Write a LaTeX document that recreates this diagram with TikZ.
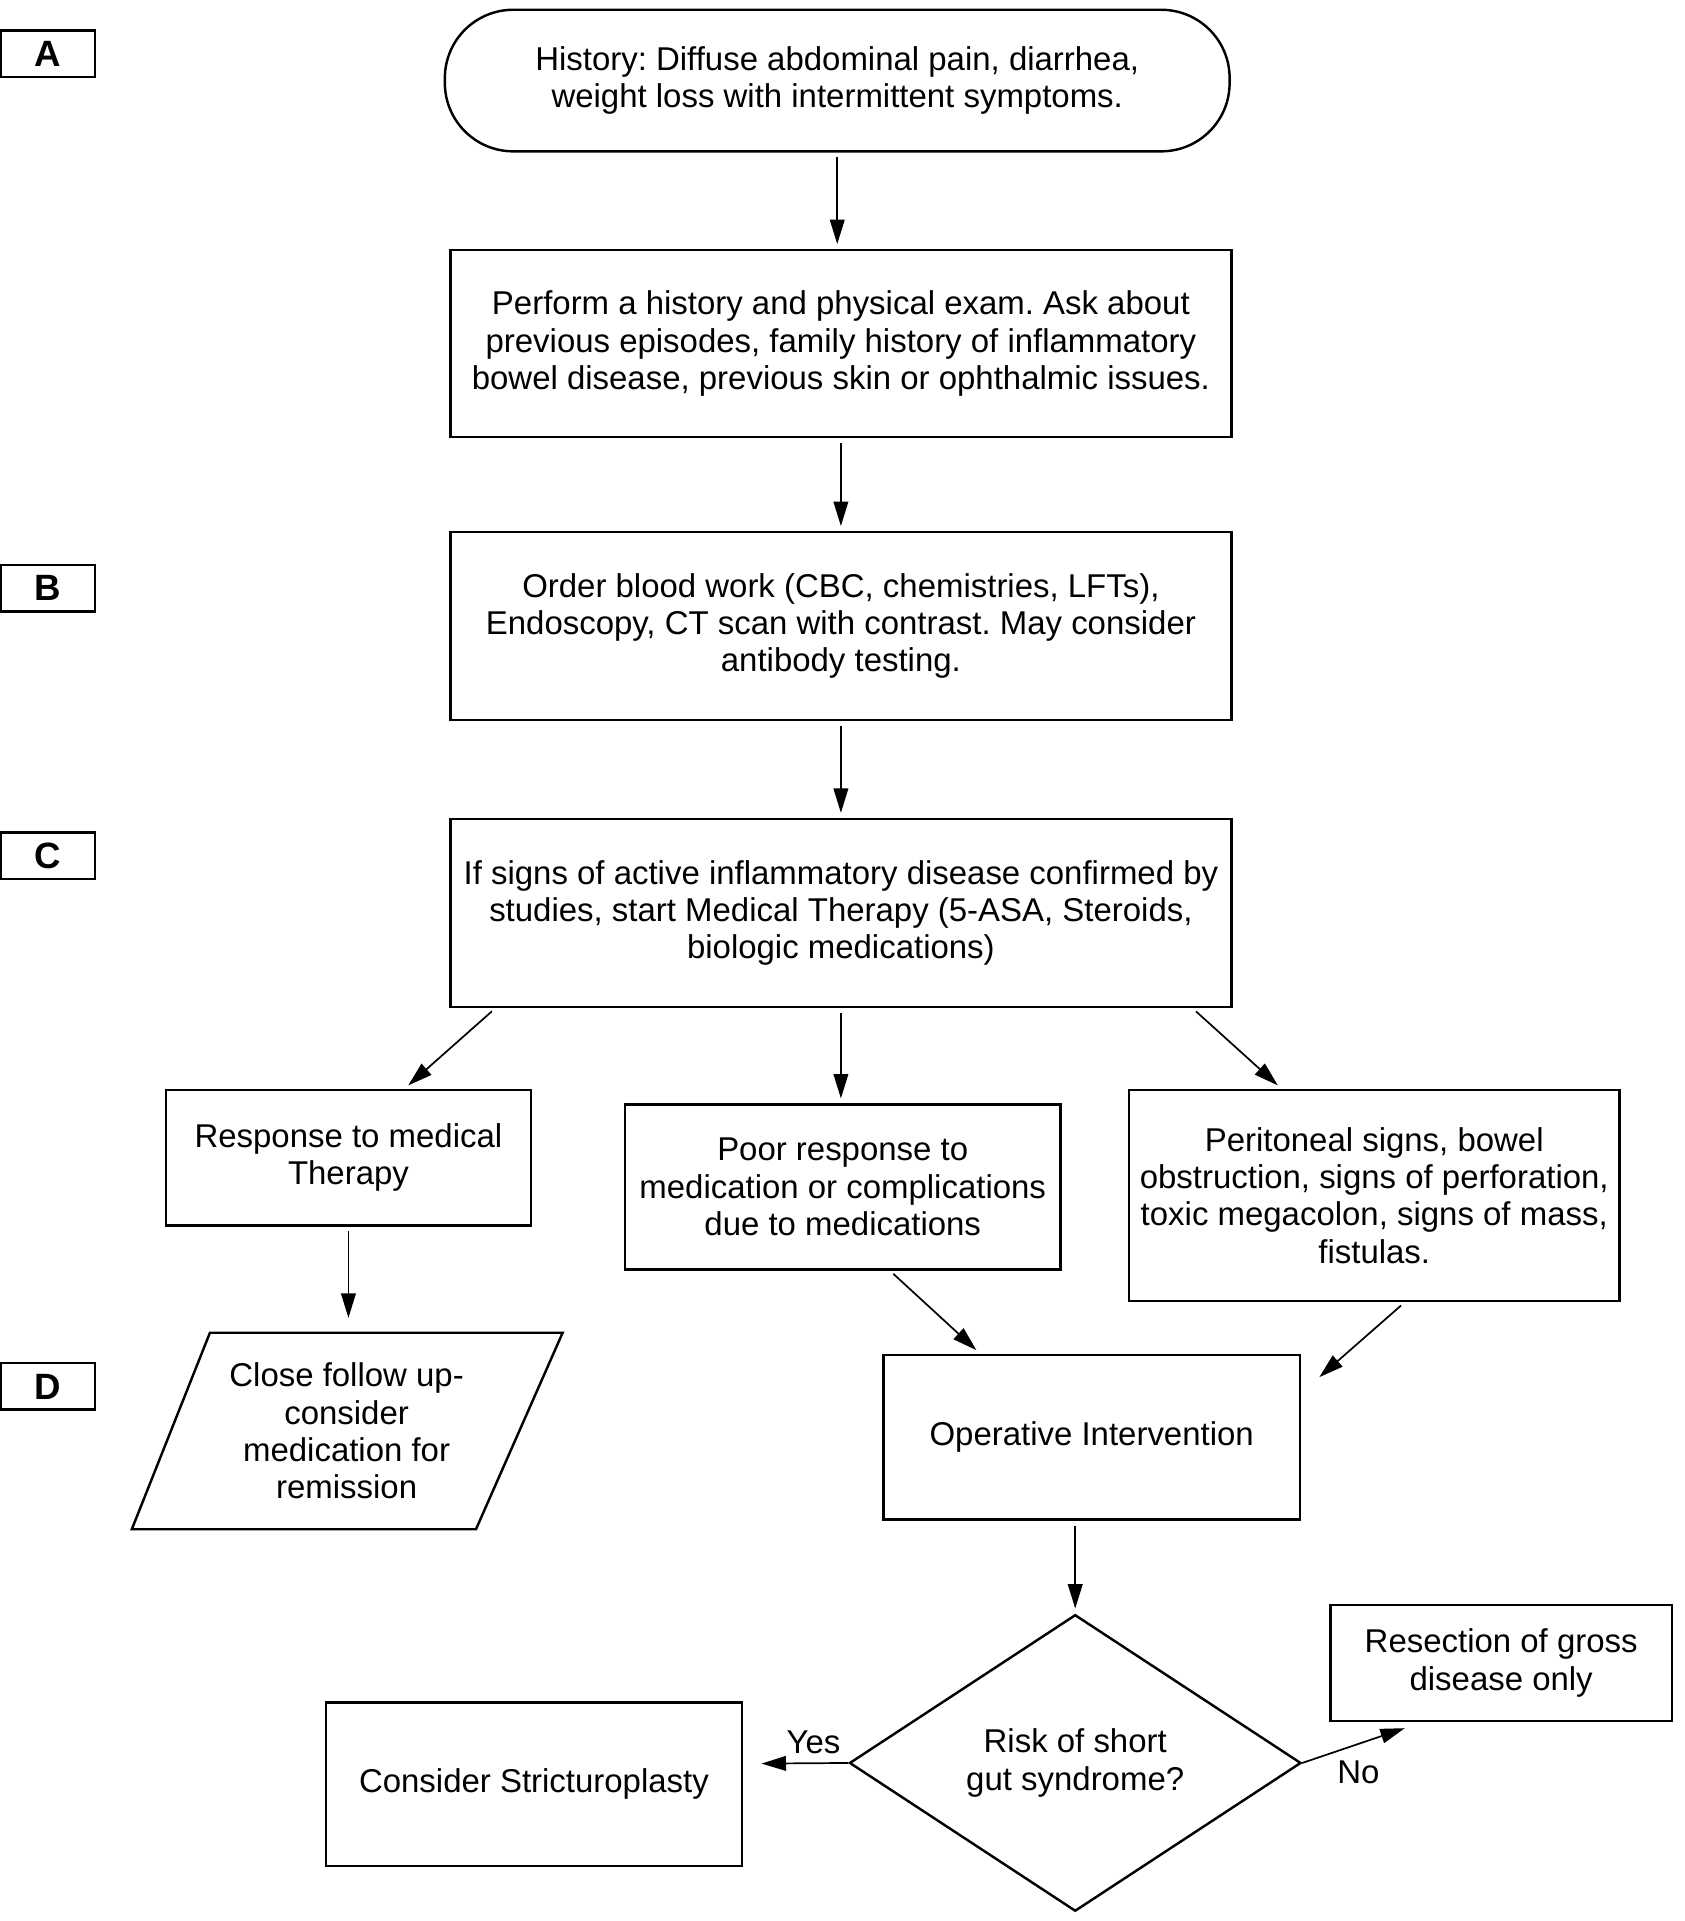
\documentclass[tikz,border=0pt]{standalone}
\usepackage{fontspec}
\setmainfont{Liberation Sans}
\usetikzlibrary{shapes.geometric,arrows.meta,calc}
\begin{document}
\frenchspacing
\begin{tikzpicture}[x=1pt,y=-1pt,
  txt/.style={align=center, inner sep=0pt, font=\fontsize{27}{30.5}\selectfont},
  box/.style={txt, draw, line width=2pt},
  lab/.style={draw, line width=2pt, minimum width=77pt, minimum height=38pt, inner sep=0pt, font=\bfseries\fontsize{30}{30}\selectfont},
  arr/.style={line width=1.4pt, -{Triangle[length=20pt,width=12pt]}, shorten <=4pt, shorten >=4pt}]
\useasboundingbox (0,0) rectangle (1380,1574);
% section labels
\node[lab] (la) at (39.5,44) {A};
\node[lab] (lb) at (39.5,482) {B};
\node[lab] (lc) at (39.5,701) {C};
\node[lab] (ld) at (39.5,1136) {D};
% main column
\node[box, rounded corners=56pt, minimum width=643pt, minimum height=116pt] (hist) at (686,66)
  {History: Diffuse abdominal pain, diarrhea,\\weight loss with intermittent symptoms.};
\node[box, minimum width=640pt, minimum height=153pt] (exam) at (689,281.5)
  {Perform a history and physical exam. Ask about\\previous episodes, family history of inflammatory\\bowel disease, previous skin or ophthalmic issues.};
\node[box, minimum width=640pt, minimum height=154pt] (blood) at (689,513)
  {Order blood work (CBC, chemistries, LFTs),\\Endoscopy, CT scan with contrast. May consider\\antibody testing.};
\node[box, minimum width=640pt, minimum height=154pt] (ther) at (689,748)
  {If signs of active inflammatory disease confirmed by\\studies, start Medical Therapy (5-ASA, Steroids,\\biologic medications)};
% branches
\node[box, minimum width=299pt, minimum height=111pt] (resp) at (285.5,948.5)
  {Response to medical\\Therapy};
\node[box, minimum width=357pt, minimum height=135pt] (poor) at (690.5,972.5)
  {Poor response to\\medication or complications\\due to medications};
\node[box, minimum width=402pt, minimum height=173pt] (peri) at (1126,979.5)
  {Peritoneal signs, bowel\\obstruction, signs of perforation,\\toxic megacolon, signs of mass,\\fistulas.};
% parallelogram
\node[txt, minimum width=353pt, minimum height=161pt] (close) at (284,1172.5)
  {Close follow up-\\consider\\medication for\\remission};
\draw[line width=2pt, line join=miter] ([shift={(-112,-80.5)}]close.center) -- ([shift={(177,-80.5)}]close.center)
  -- ([shift={(106,80.5)}]close.center) -- ([shift={(-176,80.5)}]close.center) -- cycle;
\node[box, minimum width=341pt, minimum height=135pt] (oper) at (894.5,1177.5)
  {Operative Intervention};
\node[box, diamond, minimum width=370pt, minimum height=243pt, line join=miter] (dia) at (881,1444.5)
  {Risk of short\\gut syndrome?};
\node[box, minimum width=341pt, minimum height=134pt] (strict) at (437.5,1462)
  {Consider Stricturoplasty};
\node[box, minimum width=280pt, minimum height=95pt] (resec) at (1230,1362.5)
  {Resection of gross\\disease only};
% connectors
\draw[arr] (hist.south) -- (hist.south |- exam.north);
\draw[arr] (exam.south) -- (blood.north);
\draw[arr] (blood.south) -- (ther.north);
\draw[arr] ([xshift=38pt]ther.south west) -- ([xshift=46pt]resp.north);
\draw[arr] (ther.south) -- (ther.south |- poor.north);
\draw[arr] ([xshift=-33pt]ther.south east) -- ([xshift=-76pt]peri.north);
\draw[arr, shorten >=12pt] (resp.south) -- (resp.south |- close.north);
\draw[arr] ([xshift=38.5pt]poor.south) -- ([xshift=-91.5pt]oper.north);
\draw[arr] ([xshift=25pt]peri.south) -- ([shift={(12,22)}]oper.north east);
\draw[arr] (oper.south -| dia.north) -- (dia.north);
\draw[arr, shorten <=0pt, shorten >=0pt] (dia.west) -- ([shift={(15,-17)}]strict.east) node[txt, pos=0.4, above=7pt] (yes) {Yes};
\draw[arr, shorten <=0pt, shorten >=0pt] (dia.east) -- ([shift={(62,5)}]resec.south west);
\node[txt] (no) at (1113,1452) {No};
\end{tikzpicture}
\end{document}
